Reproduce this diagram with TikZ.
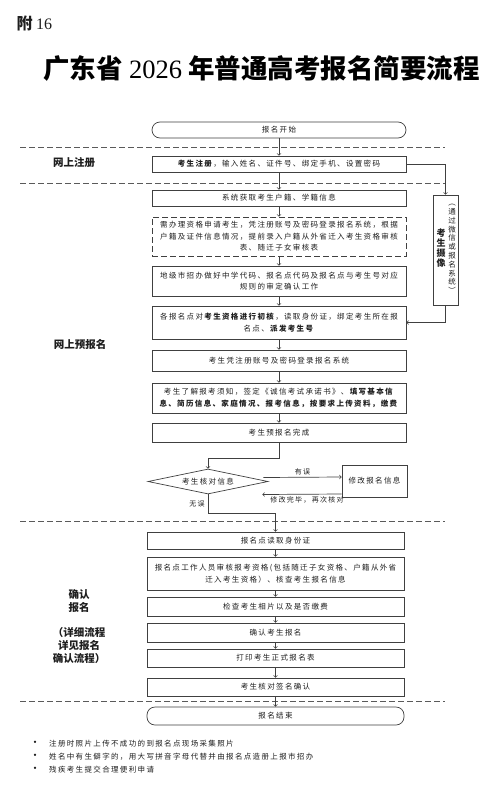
\documentclass[tikz,border=0pt]{standalone}
\usepackage{fontspec}
\setmainfont{Noto Sans CJK SC}
\newfontfamily\boxcjk[LetterSpace=18]{Noto Sans CJK SC}
\newfontfamily\latinserif{Liberation Serif}
\usetikzlibrary{shapes.geometric, arrows, positioning, calc}
\definecolor{lineg}{RGB}{64,64,64}
\definecolor{dashg}{RGB}{90,90,90}
\definecolor{inkg}{RGB}{30,30,30}

\tikzset{
  box/.style={draw=lineg, line width=0.7pt, minimum width=254pt, inner sep=1pt,
              align=center, text=inkg, font=\boxcjk\fontsize{7.5}{11.5}\selectfont},
  lowbox/.style={box, minimum width=257pt},
  capsule/.style={box, rounded corners=8pt},
  arr/.style={draw=lineg, line width=0.7pt, ->, >=to},
  sep/.style={draw=dashg, line width=0.7pt, dash pattern=on 6pt off 3pt},
  stage/.style={text=inkg, font=\bfseries\fontsize{10.5}{13}\selectfont, align=center},
  lbl/.style={text=inkg, font=\boxcjk\fontsize{7}{9}\selectfont, inner sep=1pt},
}

\begin{document}
\begin{tikzpicture}[x=1pt, y=-1pt]
  \useasboundingbox[fill=white] (0,0) rectangle (493,787);

  % heading
  \node[anchor=west, text=inkg] (annex) at (13,23)
    {\fontsize{16}{18}\selectfont\bfseries 附 {\latinserif\mdseries 16}};
  \node[text=black] (title) at (261.5,68)
    {\fontsize{26.5}{30}\selectfont\bfseries 广东省 {\latinserif\mdseries 2026} 年普通高考报名简要流程};

  % stage separators
  \foreach \y in {147,183,521,701}
    \draw[sep] (20,\y) -- (445,\y);

  % stage labels
  \node[stage] (lreg) at (74,163) {网上注册};
  \node[stage] (lpre) at (80,345) {网上预报名};
  \node[stage] (lconf) at (79,601.5) {确认\\报名};
  \node[stage] (ldetail) at (79,646) {（详细流程\\详见报名\\确认流程）};

  % online registration / pre-registration
  \node[capsule, minimum height=16pt] (start) at (279,130) {报名开始};
  \node[box, minimum height=16pt] (reg) at (279,164)
    {\textbf{考生注册}，输入姓名、证件号、绑定手机、设置密码};
  \node[box, minimum height=16pt] (sysget) at (279,198) {系统获取考生户籍、学籍信息};
  \node[box, dash pattern=on 6pt off 3pt, minimum height=39pt] (qual) at (279,236.5)
    {需办理资格申请考生，凭注册账号及密码登录报名系统，根据\\
     户籍及证件信息情况，提前录入户籍从外省迁入考生资格审核\\
     表、随迁子女审核表};
  \node[box, minimum height=30pt] (rule) at (279,281)
    {地级市招办做好中学代码、报名点代码及报名点与考生号对应\\
     规则的审定确认工作};
  \node[box, minimum height=33pt] (prelim) at (279,322.5)
    {各报名点对\textbf{考生资格进行初核}，读取身份证，绑定考生所在报\\
     名点、\textbf{派发考生号}};
  \node[box, minimum height=21pt] (login) at (279,360.5) {考生凭注册账号及密码登录报名系统};
  \node[box, minimum height=30pt] (fill) at (279,398)
    {考生了解报考须知，签定《诚信考试承诺书》、\textbf{填写基本信}\\
     \textbf{息、简历信息、家庭情况、报考信息，按要求上传资料，缴费}};
  \node[box, minimum height=19pt] (done) at (279,432.5) {考生预报名完成};

  \foreach \a/\b in {start/reg, reg/sysget, sysget/qual, qual/rule,
                     rule/prelim, prelim/login, login/fill, fill/done}
    \draw[arr] (\a.south) -- (\b.north);

  % photo capture branch
  \node[box, minimum width=25pt, minimum height=110pt] (side) at (445.5,250) {};
  \node[text=inkg, font=\bfseries\fontsize{9}{10}\selectfont, align=center] (sidea)
    at ($(side.center)+(-4.5,-2)$) {考\\生\\摄\\像};
  \node[text=inkg, font=\fontsize{7.5}{8.8}\selectfont, align=center] (sideb)
    at ($(side.center)+(6.5,-1)$) {︵\\通\\过\\微\\信\\或\\报\\名\\系\\统\\︶};
  \draw[arr] (reg.east) -| (side.north);
  \draw[arr] (side.south) |- (prelim.east);

  % check loop
  \node[draw=lineg, line width=0.7pt, diamond, aspect=4.8, minimum width=120pt,
        minimum height=25pt, inner sep=0pt, text=inkg,
        font=\boxcjk\fontsize{7.5}{9}\selectfont] (check) at (208,481.5) {考生核对信息};
  \node[box, minimum width=65pt, minimum height=32pt] (modify) at (374.5,481) {修改报名信息};
  \draw[arr] (done.south) -- ++(0,16) -| (check.north);
  \draw[arr] ($(check.east)+(-5,-4)$) -- node[lbl, above=1pt] {有误} ($(modify.west)+(0,-4)$);
  \draw[arr] ($(modify.west)+(0,13)$) -- node[lbl, below=1pt, xshift=5pt] {修改完毕，再次核对}
    ($(check.east)+(-6,13)$);

  % confirmation
  \node[lowbox, minimum height=17pt] (readid) at (275.5,540.5) {报名点读取身份证};
  \node[lowbox, minimum height=33pt] (review) at (275.5,573.5)
    {报名点工作人员审核报考资格(包括随迁子女资格、户籍从外省\\
     迁入考生资格）、核查考生报名信息};
  \node[lowbox, minimum height=19pt] (photo) at (275.5,606.5) {检查考生相片以及是否缴费};
  \node[lowbox, minimum height=19pt] (confirm) at (275.5,632.5) {确认考生报名};
  \node[lowbox, minimum height=18pt] (print) at (275.5,658) {打印考生正式报名表};
  \node[lowbox, minimum height=18pt] (sign) at (275.5,687) {考生核对签名确认};
  \node[lowbox, rounded corners=8pt, minimum height=18pt] (finish) at (275.5,716) {报名结束};

  \draw[arr] (check.south) -- node[lbl, left=2pt] {无误} ++(0,19) -| (readid.north);
  \foreach \a/\b in {readid/review, review/photo, photo/confirm,
                     confirm/print, print/sign, sign/finish}
    \draw[arr] (\a.south) -- (\b.north);

  % notes
  \foreach \t [count=\i] in {注册时照片上传不成功的到报名点现场采集照片,
                             姓名中有生僻字的，用大写拼音字母代替并由报名点造册上报市招办,
                             残疾考生提交合理便利申请} {
    \node[lbl, font=\fontsize{11}{11}\selectfont] (dot\i) at (35,{731+13*\i}) {•};
    \node[lbl, font=\boxcjk\fontsize{7.5}{9}\selectfont, anchor=west] (note\i)
      at (48,{731+13*\i}) {\t};
  }
\end{tikzpicture}
\end{document}
